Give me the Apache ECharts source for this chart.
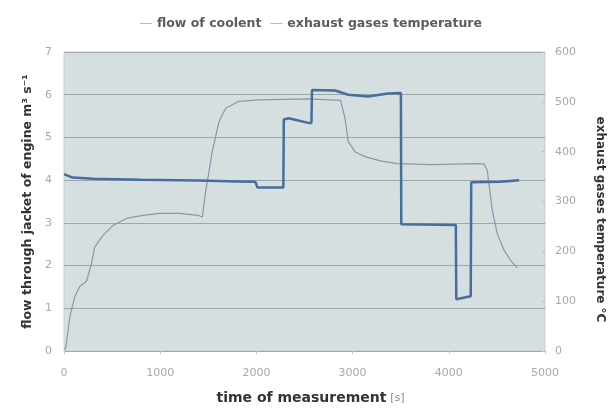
<!DOCTYPE html>
<html>
<head>
<meta charset="utf-8">
<title>Coolant flow and exhaust temperature</title>
<script src="https://cdn.jsdelivr.net/npm/echarts@6/dist/echarts.min.js"></script>
<style>
  html, body { margin: 0; padding: 0; background: #ffffff; }
  #chart { width: 614px; height: 410px; }
</style>
</head>
<body>
<div id="chart"></div>
<script>
// Coolant flow through the engine jacket [m³/s] over time [s]
const flowTime = [0, 90, 300, 800, 1400, 1800, 1990, 2010, 2280, 2285, 2335, 2540, 2572, 2578, 2817, 2955, 3161, 3368, 3502, 3506, 4073, 4078, 4228, 4233, 4540, 4730];
const flowValue = [4.14, 4.06, 4.03, 4.01, 3.99, 3.97, 3.96, 3.83, 3.83, 5.42, 5.45, 5.34, 5.34, 6.11, 6.10, 6.00, 5.96, 6.03, 6.04, 2.97, 2.95, 1.21, 1.28, 3.95, 3.96, 4.00];

// Exhaust gas temperature [°C] over time [s]
const tempTime = [8, 21, 62, 114, 165, 234, 286, 320, 406, 509, 648, 819, 992, 1198, 1400, 1439, 1474, 1542, 1612, 1681, 1818, 2025, 2541, 2875, 2920, 2955, 3024, 3127, 3299, 3471, 3812, 4315, 4367, 4400, 4418, 4452, 4504, 4573, 4642, 4711];
const tempValue = [2, 10, 70, 110, 130, 140, 176, 209, 232, 252, 266, 272, 276, 276, 272, 269, 322, 401, 461, 487, 501, 504, 506, 503, 468, 420, 400, 390, 381, 376, 374, 376, 375, 362, 335, 282, 235, 203, 182, 167];

// Axis ticks
const timeTicks = [0, 1000, 2000, 3000, 4000, 5000];
const flowTicks = [0, 1, 2, 3, 4, 5, 6, 7];
const tempTicks = [0, 100, 200, 300, 400, 500, 600];

const pairs = (xs, ys) => xs.map((x, i) => [x, ys[i]]);

const labelColor = '#a8a8a8';
const titleColor = '#333333';
const font = 'DejaVu Sans, Verdana, sans-serif';

const chart = echarts.init(document.getElementById('chart'), null, { renderer: 'canvas' });

chart.setOption({
  animation: false,
  backgroundColor: '#ffffff',
  textStyle: { fontFamily: font },
  legend: {
    top: 12,
    left: 135,
    itemGap: 9,
    itemWidth: 12,
    itemHeight: 1,
    icon: 'rect',
    textStyle: { color: '#5c5c5c', fontSize: 12.5, fontWeight: 'bold', fontFamily: font },
    data: [
      { name: 'flow of coolent', itemStyle: { color: '#b8b8cc' } },
      { name: 'exhaust gases temperature', itemStyle: { color: '#b8b8cc' } }
    ]
  },
  grid: {
    left: 64,
    right: 67,
    top: 52,
    bottom: 58,
    show: true,
    backgroundColor: '#d5dfe0',
    borderColor: '#c6d0d0',
    borderWidth: 1
  },
  xAxis: {
    type: 'value',
    min: timeTicks[0],
    max: timeTicks[timeTicks.length - 1],
    interval: 1000,
    name: '{b|time of measurement} {n|[s]}',
    nameLocation: 'middle',
    nameGap: 40,
    nameTextStyle: {
      padding: [0, 0, 0, 12],
      rich: {
        b: { fontSize: 14, fontWeight: 'bold', color: titleColor, fontFamily: font },
        n: { fontSize: 11, color: '#8a8a8a', fontFamily: font }
      }
    },
    axisLine: { show: false },
    axisTick: { show: true, length: 3, lineStyle: { color: '#c0c8c8' } },
    axisLabel: { color: labelColor, fontSize: 11, margin: 17, formatter: v => String(v) },
    splitLine: { show: false }
  },
  yAxis: [
    {
      type: 'value',
      position: 'left',
      min: flowTicks[0],
      max: flowTicks[flowTicks.length - 1],
      interval: 1,
      name: 'flow through jacket of engine m³ s⁻¹',
      nameLocation: 'middle',
      nameGap: 28,
      nameTextStyle: { fontSize: 12.5, fontWeight: 'bold', color: titleColor, fontFamily: font },
      axisLine: { show: false },
      axisTick: { show: false },
      axisLabel: { color: labelColor, fontSize: 11, margin: 12 },
      splitLine: { show: true, lineStyle: { color: '#9ea8a8', width: 1 } }
    },
    {
      type: 'value',
      position: 'right',
      min: tempTicks[0],
      max: tempTicks[tempTicks.length - 1],
      interval: 100,
      name: 'exhaust gases temperature °C',
      nameLocation: 'middle',
      nameRotate: -90,
      nameGap: 49,
      nameTextStyle: { fontSize: 12, fontWeight: 'bold', color: titleColor, fontFamily: font, padding: [0, 0, 0, 36] },
      axisLine: { show: false },
      axisTick: { show: true, inside: true, length: 3, lineStyle: { color: '#b8c2c2' } },
      axisLabel: { color: labelColor, fontSize: 11, margin: 10 },
      splitLine: { show: false }
    }
  ],
  series: [
    {
      name: 'flow of coolent',
      type: 'line',
      yAxisIndex: 0,
      data: pairs(flowTime, flowValue),
      showSymbol: false,
      smooth: false,
      lineStyle: { color: '#456e9e', width: 2.5 },
      itemStyle: { color: '#456e9e' },
      z: 3
    },
    {
      name: 'exhaust gases temperature',
      type: 'line',
      yAxisIndex: 1,
      data: pairs(tempTime, tempValue),
      showSymbol: false,
      smooth: false,
      lineStyle: { color: '#9092ae', width: 1.2 },
      itemStyle: { color: '#9092ae' },
      z: 2
    }
  ]
});
</script>
</body>
</html>
